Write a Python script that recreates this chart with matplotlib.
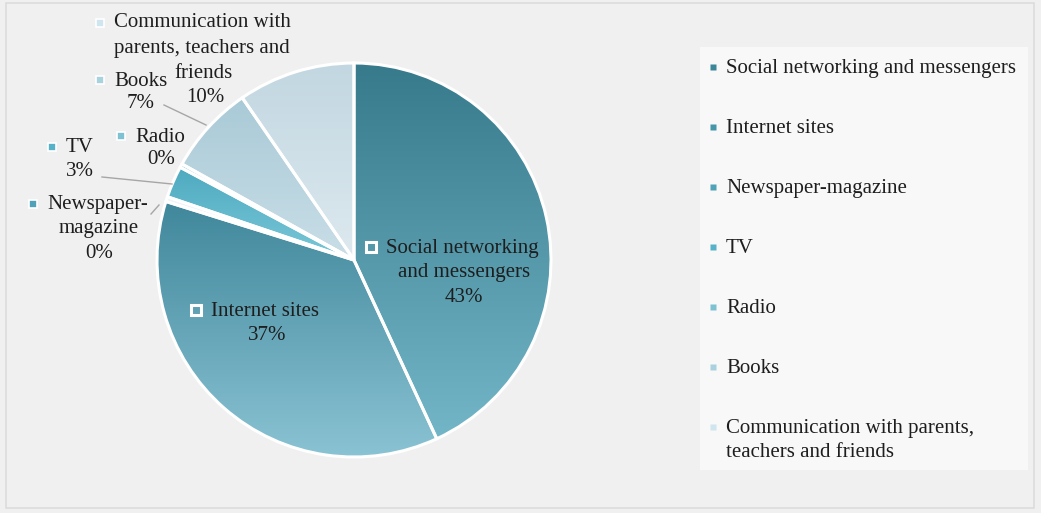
"""
Information sources pie chart with gradient slices and a side legend
"""
import numpy as np
import matplotlib.pyplot as plt
from matplotlib.colors import LinearSegmentedColormap
from matplotlib.patches import Rectangle

W, H = 1041, 513

categories = [
    "Social networking and messengers",
    "Internet sites",
    "Newspaper-magazine",
    "TV",
    "Radio",
    "Books",
    "Communication with parents, teachers and friends",
]
shares = [43.1, 36.7, 0.4, 2.6, 0.3, 7.3, 9.6]

# top / bottom gradient colours for every slice, legend marker colours
grad_top = ["#367a8b", "#40879b", "#eef5f8", "#4eaac0", "#72bccd", "#a9cad7", "#c2d7e1"]
grad_bot = ["#72b6c8", "#8ac3d3", "#f4f8fa", "#7ac8d8", "#a8d9e4", "#c9dee7", "#dde9ef"]
legend_colors = ["#3a8799", "#4596ab", "#4fa2b7", "#55b2c8", "#7dc2d2", "#a9d2de", "#d0e6ee"]

legend_text = [
    "Social networking and messengers",
    "Internet sites",
    "Newspaper-magazine",
    "TV",
    "Radio",
    "Books",
    "Communication with parents,\nteachers and friends",
]

plt.rcParams['font.family'] = ['Liberation Serif', 'DejaVu Serif']
FS = 15
TXT = "#1e1e1e"

fig = plt.figure(figsize=(W / 100, H / 100), dpi=100)
fig.patch.set_facecolor("#f0f0f0")


def px(x, y):
    return x / W, 1 - y / H


# thin outer frame
frame = Rectangle(px(6, 508), (1034 - 6) / W, (508 - 3) / H, transform=fig.transFigure,
                  fill=False, edgecolor="#dcdcdc", lw=1.2)
fig.patches.append(frame)

# legend panel
panel = Rectangle(px(700, 470), (1028 - 700) / W, (470 - 47) / H, transform=fig.transFigure,
                  facecolor="#f8f8f8", edgecolor="none")
fig.patches.append(panel)

# pie axes: centre (354, 260), radius 197 px
cx, cy, r = 354, 260, 197
ax = fig.add_axes([(cx - r) / W, (H - cy - r) / H, 2 * r / W, 2 * r / H])

wedges, _ = ax.pie(shares, startangle=90, counterclock=False, radius=1,
                   wedgeprops=dict(edgecolor="white", linewidth=2.2))

# vertical gradient inside each slice, spanning the slice's own height
grad = np.linspace(0, 1, 256).reshape(-1, 1)
for w, ct, cb in zip(wedges, grad_top, grad_bot):
    w.set_facecolor("none")
    th = np.radians(np.linspace(w.theta1, w.theta2, 200))
    ys = np.concatenate([[0], w.r * np.sin(th)])
    cmap = LinearSegmentedColormap.from_list("g", [ct, cb])
    im = ax.imshow(grad, cmap=cmap, extent=[-1, 1, ys.min(), ys.max()], aspect="auto",
                   origin="upper", zorder=0.5)
    im.set_clip_path(w)
    w.set_zorder(1)
ax.set_xlim(-1, 1)
ax.set_ylim(-1, 1)
ax.axis("off")


def marker(x, y, color=None, hollow=False):
    if hollow:
        fig.add_artist(plt.Line2D([x / W], [1 - y / H], marker="s", ms=7, mfc="none",
                                  mec="white", mew=2.2, transform=fig.transFigure))
    else:
        fig.add_artist(plt.Line2D([x / W], [1 - y / H], marker="s", ms=6, mfc=color,
                                  mec="white", mew=1.2, transform=fig.transFigure))


def lines(rows):
    for t, x, y, ha in rows:
        fig.text(*px(x, y), t, ha=ha, va="center", fontsize=FS, color=TXT)


def pct(v):
    return f"{v:.0f}%"


# data labels
marker(371, 247, hollow=True)
lines([("Social networking", 386, 249, "left"), ("and messengers", 464, 273, "center"),
       (pct(shares[0]), 464, 297, "center")])
marker(196, 310, hollow=True)
lines([("Internet sites", 211, 311, "left"), (pct(shares[1]), 267, 335, "center")])
marker(33, 204, legend_colors[2])
lines([("Newspaper-", 47, 205, "left"), ("magazine", 99, 229, "center"),
       (pct(shares[2]), 99, 253, "center")])
marker(52, 147, legend_colors[3])
lines([("TV", 66, 148, "left"), (pct(shares[3]), 80, 172, "center")])
marker(121, 136, legend_colors[4])
lines([("Radio", 135, 137, "left"), (pct(shares[4]), 161, 160, "center")])
marker(100, 80, legend_colors[5])
lines([("Books", 114, 81, "left"), (pct(shares[5]), 141, 104, "center")])
marker(100, 23, legend_colors[6])
lines([("Communication with", 114, 23, "left"), ("parents, teachers and", 114, 48, "left"),
       ("friends", 204, 73, "center"), (pct(shares[6]), 205, 97, "center")])

# leader lines
for (x0, y0), (x1, y1) in [((164, 105), (206, 125)), ((102, 177), (172, 184)), ((151, 214), (159, 205))]:
    fig.add_artist(plt.Line2D([x0 / W, x1 / W], [1 - y0 / H, 1 - y1 / H], color="#a6a6a6",
                              lw=1, transform=fig.transFigure))

# legend
for i, (t, c) in enumerate(zip(legend_text, legend_colors)):
    y = 67 + 60 * i
    fig.add_artist(plt.Line2D([713 / W], [1 - y / H], marker="s", ms=5, mfc=c, mec="none",
                              transform=fig.transFigure))
    fig.text(*px(726, y - 8), t, ha="left", va="top", fontsize=FS, color=TXT,
             linespacing=1.35)

plt.savefig("out.png", dpi=100, facecolor=fig.get_facecolor())
